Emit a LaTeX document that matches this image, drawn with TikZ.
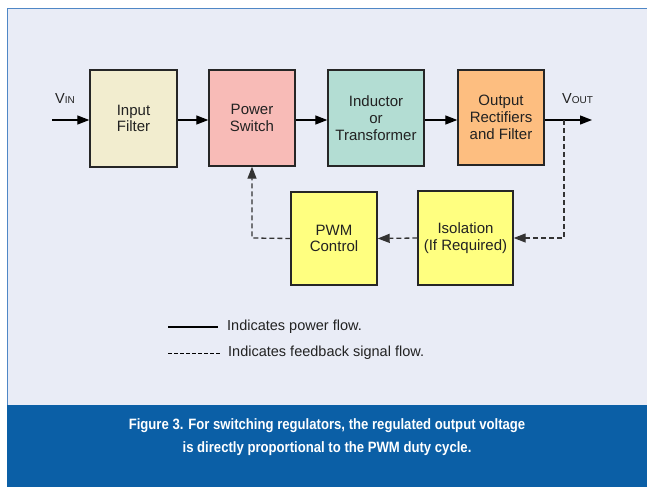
\documentclass[tikz,border=0pt]{standalone}
\usepackage{fontspec}
\setmainfont{Liberation Sans}
\newfontfamily\capfont[FakeStretch=0.875]{Liberation Sans}
\usetikzlibrary{arrows.meta}
\definecolor{bgc}{HTML}{E9ECF6}
\definecolor{framec}{HTML}{4F87C6}
\definecolor{bandc}{HTML}{0B5FA6}
\definecolor{cIn}{HTML}{F2EDCF}
\definecolor{cPow}{HTML}{F8BBB7}
\definecolor{cInd}{HTML}{B3DDD3}
\definecolor{cOut}{HTML}{FDBE80}
\definecolor{cYel}{HTML}{FFFF80}
\definecolor{txt}{HTML}{222222}
\tikzset{
  blk/.style={draw=black!85, line width=1.4pt, align=center, text=txt,
    font=\fontsize{15}{16.8}\selectfont, inner sep=0pt},
  pw/.style={line width=1.3pt, draw=black, -{Triangle[length=12pt,width=9pt]}},
  fb/.style={line width=1.3pt, draw=black!80, dash pattern=on 5pt off 3pt, -{Triangle[length=12pt,width=9pt]}},
  lbl/.style={font=\fontsize{14.5}{16.8}\selectfont, text=txt, inner sep=0pt, anchor=west},
}
\begin{document}
\begin{tikzpicture}[x=1pt,y=-1pt]
\useasboundingbox (0,0) rectangle (647,487);
\fill[bgc] (7,8) rectangle (647,405);
\draw[framec, line width=1.5pt] (7.5,405) -- (7.5,8.5) -- (647,8.5);
\fill[bandc] (7,405) rectangle (647,487);
\node[text=white, align=center, font=\capfont\bfseries\fontsize{15}{23}\selectfont] (cap) at (327,437)
  {Figure 3. For switching regulators, the regulated output voltage\\is directly proportional to the PWM duty cycle.};

\node[blk, fill=cIn, minimum width=87pt, minimum height=97pt] (inf) at (133.5,118.5) {Input\\Filter};
\node[blk, fill=cPow, minimum width=86pt, minimum height=96pt] (psw) at (252,118) {Power\\Switch};
\node[blk, fill=cInd, minimum width=96pt, minimum height=96pt] (ind) at (376,118) {Inductor\\or\\Transformer};
\node[blk, fill=cOut, minimum width=86pt, minimum height=95pt] (out) at (501,117.5) {Output\\Rectifiers\\and Filter};
\node[blk, fill=cYel, minimum width=95pt, minimum height=94pt] (iso) at (465.5,238) {Isolation\\(If Required)};
\node[blk, fill=cYel, minimum width=86pt, minimum height=93pt] (pwm) at (334,238.5) {PWM\\Control};

\coordinate (vin) at (52,120);
\coordinate (vout) at (592,120);
\coordinate (br) at (564,120);
\coordinate (fbl) at (252,238);
\node[lbl] (vinl) at (55,99) {V{\fontsize{10}{10}\selectfont IN}};
\node[lbl] (voutl) at (562,99) {V{\fontsize{10}{10}\selectfont OUT}};

\draw[pw] (vin) -- (inf.west |- vin);
\draw[pw] (inf.east |- vin) -- (psw.west |- vin);
\draw[pw] (psw.east |- vin) -- (ind.west |- vin);
\draw[pw] (ind.east |- vin) -- (out.west |- vin);
\draw[pw] (out.east |- vin) -- (vout);
\draw[fb] (br) -- (br |- iso.east) -- (iso.east);
\draw[fb] (iso.west) -- (pwm.east);
\draw[fb] (pwm.west) -- (fbl) -- (psw.south);

\coordinate (l1a) at (168,327);
\coordinate (l1b) at (218,327);
\coordinate (l2a) at (168,353);
\coordinate (l2b) at (220,353);
\draw[line width=1.2pt] (l1a) -- (l1b);
\draw[line width=1pt, dash pattern=on 4pt off 2pt] (l2a) -- (l2b);
\node[lbl] (leg1) at (227,327) {Indicates power flow.};
\node[lbl] (leg2) at (228,353) {Indicates feedback signal flow.};
\end{tikzpicture}
\end{document}
